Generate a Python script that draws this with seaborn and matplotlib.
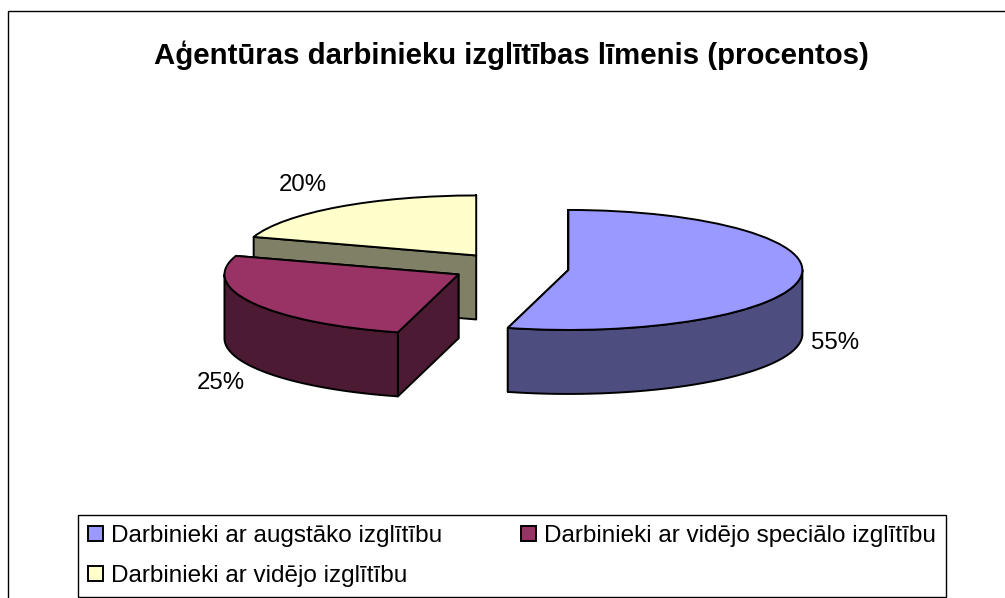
import numpy as np
import matplotlib
matplotlib.use("Agg")
import matplotlib.pyplot as plt
from matplotlib.patches import Rectangle
import seaborn as sns

title = "Aģentūras darbinieku izglītības līmenis (procentos)"
categories = ["Darbinieki ar augstāko izglītību",
              "Darbinieki ar vidējo speciālo izglītību",
              "Darbinieki ar vidējo izglītību"]
values = [55, 25, 20]
top_colors = ["#9999FF", "#993366", "#FFFFCC"]
label_px = [(835, 343), (220.5, 383), (303, 184.5)]

W, H = 1005, 598
CX, CY, RX, RY = 510.6, 267.6, 234.0, 60.0
DEPTH = 64 / RY
ANGLE_SKEW = 3.0   # the original's 3-D view turns the front slice boundary slightly
LW = 1.4

sns.set_theme(style="white")
plt.rcParams["font.family"] = ["Liberation Sans", "DejaVu Sans"]

palette = sns.color_palette(top_colors)
side_colors = [tuple(c * 0.5 for c in rgb) for rgb in palette]

fig = plt.figure(figsize=(W / 100, H / 100), dpi=100, facecolor="white")
ax = fig.add_axes([0, 0, 1, 1])
wedges, _ = ax.pie(values, colors=palette, explode=[0.25] * len(values),
                   startangle=90, counterclock=False, radius=1,
                   wedgeprops=dict(edgecolor="black", linewidth=LW, joinstyle="round"))
ax.set_aspect("auto")
ax.set_xlim(-CX / RX, (W - CX) / RX)
ax.set_ylim((CY - H) / RY, CY / RY)
ax.axis("off")

wedges[0].set_theta1(wedges[0].theta1 + ANGLE_SKEW)
wedges[1].set_theta2(wedges[1].theta2 + ANGLE_SKEW)


def extrude(wedge, side, z):
    cx, cy = wedge.center
    r = wedge.r
    style = dict(facecolor=side, edgecolor="black", linewidth=LW, joinstyle="round", zorder=z)
    # flat cut faces running out from the apex
    for t in (wedge.theta1, wedge.theta2):
        ex, ey = cx + r * np.cos(np.radians(t)), cy + r * np.sin(np.radians(t))
        ax.fill([cx, ex, ex, cx], [cy, ey, ey - DEPTH, cy - DEPTH], **style)
    # curved outer face: only the part on the near half of the rim
    for shift in (0, -360, 360):
        a, b = max(wedge.theta1 + shift, -180), min(wedge.theta2 + shift, 0)
        if b > a:
            t = np.radians(np.linspace(a, b, 120))
            x, y = cx + r * np.cos(t), cy + r * np.sin(t)
            ax.fill(np.r_[x, x[::-1]], np.r_[y, y[::-1] - DEPTH], **style)
    wedge.set_zorder(z + 1)


for i in (2, 1, 0):
    extrude(wedges[i], side_colors[i], 2 * (3 - i))

for v, (px, py) in zip(values, label_px):
    fig.text(px / W, 1 - py / H, f"{v}%", ha="center", va="center",
             fontsize=17.3, color="black", zorder=20)

fig.text(511.5 / W, 1 - 55 / H, title, ha="center", va="center",
         fontsize=21.2, fontweight="bold", color="black")

leg = ax.legend([wedges[0], wedges[2], wedges[1]],
                [categories[0], categories[2], categories[1]],
                ncol=2, loc="lower left",
                bbox_to_anchor=(78 / W, 1 - 597 / H), bbox_transform=fig.transFigure,
                fontsize=17.5, labelcolor="black", frameon=True, fancybox=False, framealpha=1,
                edgecolor="black", borderpad=0.41, labelspacing=0.74,
                handlelength=0.62, handleheight=0.62, handletextpad=0.33,
                columnspacing=3.25, borderaxespad=0)
leg.get_frame().set_linewidth(1.0)
leg.set_zorder(30)

fig.add_artist(Rectangle((7.5 / W, -0.05), 1.1, 1.05 - 11.5 / H, transform=fig.transFigure,
                         fill=False, edgecolor="black", linewidth=1.0))

fig.savefig("out.png", dpi=100, facecolor="white")
